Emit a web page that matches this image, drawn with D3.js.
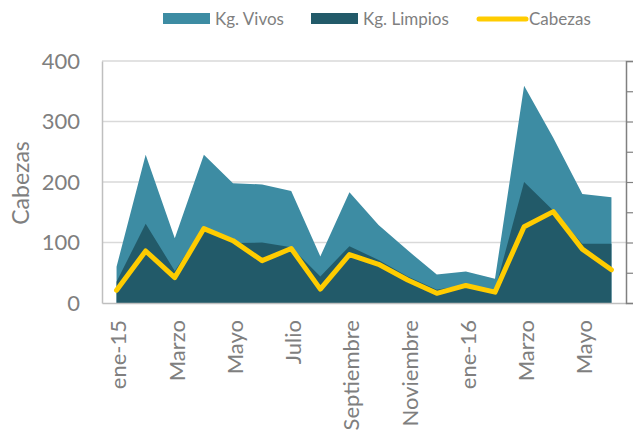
<!DOCTYPE html>
<html>
<head>
<meta charset="utf-8">
<script src="https://cdn.jsdelivr.net/npm/d3@7"></script>
<style>
  html, body { margin: 0; padding: 0; background: #fff; }
  svg text { font-family: Lato, "Open Sans", sans-serif; fill: #7f7f7f; }
</style>
</head>
<body>
<svg id="chart" width="637" height="435"></svg>
<script>
const months = ["ene-15","Febrero","Marzo","Abril","Mayo","Junio","Julio","Agosto","Septiembre","Octubre","Noviembre","Diciembre",
                "ene-16","Febrero","Marzo","Abril","Mayo","Junio"];
const kgVivos   = [60, 245, 107, 245, 198, 196, 185, 77, 183, 129, 87, 47, 52, 40, 359, 273, 180, 175];
const kgLimpios = [35, 131, 53, 125, 99, 100, 92, 44, 94, 71, 44, 22, 30, 21, 200, 153, 98, 98];
const cabezas   = [21, 86, 42, 123, 103, 70, 90, 23, 80, 64, 38, 16, 29, 18, 126, 151, 89, 55];
const yTicks = [0, 100, 200, 300, 400];
const seriesNames = ["Kg. Vivos", "Kg. Limpios", "Cabezas"];
const colors = ["#3D8CA3", "#225A69", "#FFCC00"];

const svg = d3.select("#chart");
const pL = 102, pR = 626, pT = 61, pB = 303;
const idx = months.map((d, i) => i);
const x = d3.scaleBand().domain(idx).range([pL, pR]).padding(0);
const cx = i => x(i) + x.bandwidth() / 2;
const y = d3.scaleLinear().domain([0, 400]).range([pB, pT]);
const y2 = d3.scaleLinear().domain([0, 8]).range([pB, pT]);

// gridlines
svg.append("g").selectAll("line").data(yTicks.filter(d => d > 0)).join("line")
  .attr("x1", pL).attr("x2", pR).attr("y1", d => y(d)).attr("y2", d => y(d))
  .attr("stroke", "#d9d9d9").attr("stroke-width", 1.5);

// areas
const areaV = d3.area().x((d, i) => cx(i)).y0(y(0)).y1(d => y(d));
svg.append("path").datum(kgVivos).attr("d", areaV).attr("fill", colors[0]);
svg.append("path").datum(kgLimpios).attr("d", areaV).attr("fill", colors[1]);

// line
const line = d3.line().x((d, i) => cx(i)).y(d => y(d));
svg.append("path").datum(cabezas).attr("d", line).attr("fill", "none")
  .attr("stroke", colors[2]).attr("stroke-width", 5).attr("stroke-linejoin", "round").attr("stroke-linecap", "round");

// left axis
const yAxis = svg.append("g").attr("transform", `translate(${pL},0)`)
  .call(d3.axisLeft(y).tickValues(yTicks).tickSize(0).tickPadding(22));
yAxis.select(".domain").attr("stroke", "#bfbfbf").attr("stroke-width", 1.5);
yAxis.selectAll("text").attr("font-size", 22).attr("fill", "#7f7f7f");

// bottom axis
const xAxis = svg.append("g").attr("transform", `translate(0,${pB})`)
  .call(d3.axisBottom(x).tickSize(0).tickFormat(i => i % 2 === 0 ? months[i] : ""));
xAxis.select(".domain").attr("stroke", "#bfbfbf").attr("stroke-width", 1.5);
xAxis.selectAll("text")
  .attr("font-size", 22).attr("fill", "#7f7f7f")
  .attr("text-anchor", "end")
  .attr("transform", "rotate(-90)")
  .attr("x", -17).attr("y", 0).attr("dy", "0.45em");

// right (secondary) axis, labels cut off
const rAxis = svg.append("g").attr("transform", `translate(${pR},0)`)
  .call(d3.axisRight(y2).ticks(8).tickSize(7).tickFormat(""));
rAxis.select(".domain").attr("stroke", "#808080").attr("stroke-width", 1.5);
rAxis.selectAll(".tick line").attr("stroke", "#808080").attr("stroke-width", 1.2);

// axis title
svg.append("text").attr("transform", `translate(29,${(pT + pB) / 2 + 1}) rotate(-90)`)
  .attr("text-anchor", "middle").attr("font-size", 23).text("Cabezas");

// legend
const legendX = [163, 311, 477];
const lg = svg.append("g");
seriesNames.forEach((n, i) => {
  if (i < 2) {
    lg.append("rect").attr("x", legendX[i]).attr("y", 13).attr("width", 47).attr("height", 11).attr("fill", colors[i]);
  } else {
    lg.append("line").attr("x1", legendX[i] + 2).attr("x2", legendX[i] + 49).attr("y1", 19).attr("y2", 19)
      .attr("stroke", colors[i]).attr("stroke-width", 5).attr("stroke-linecap", "round");
  }
  lg.append("text").attr("x", legendX[i] + 52).attr("y", 19).attr("dy", "0.35em")
    .attr("font-size", 17).text(n);
});
</script>
</body>
</html>
